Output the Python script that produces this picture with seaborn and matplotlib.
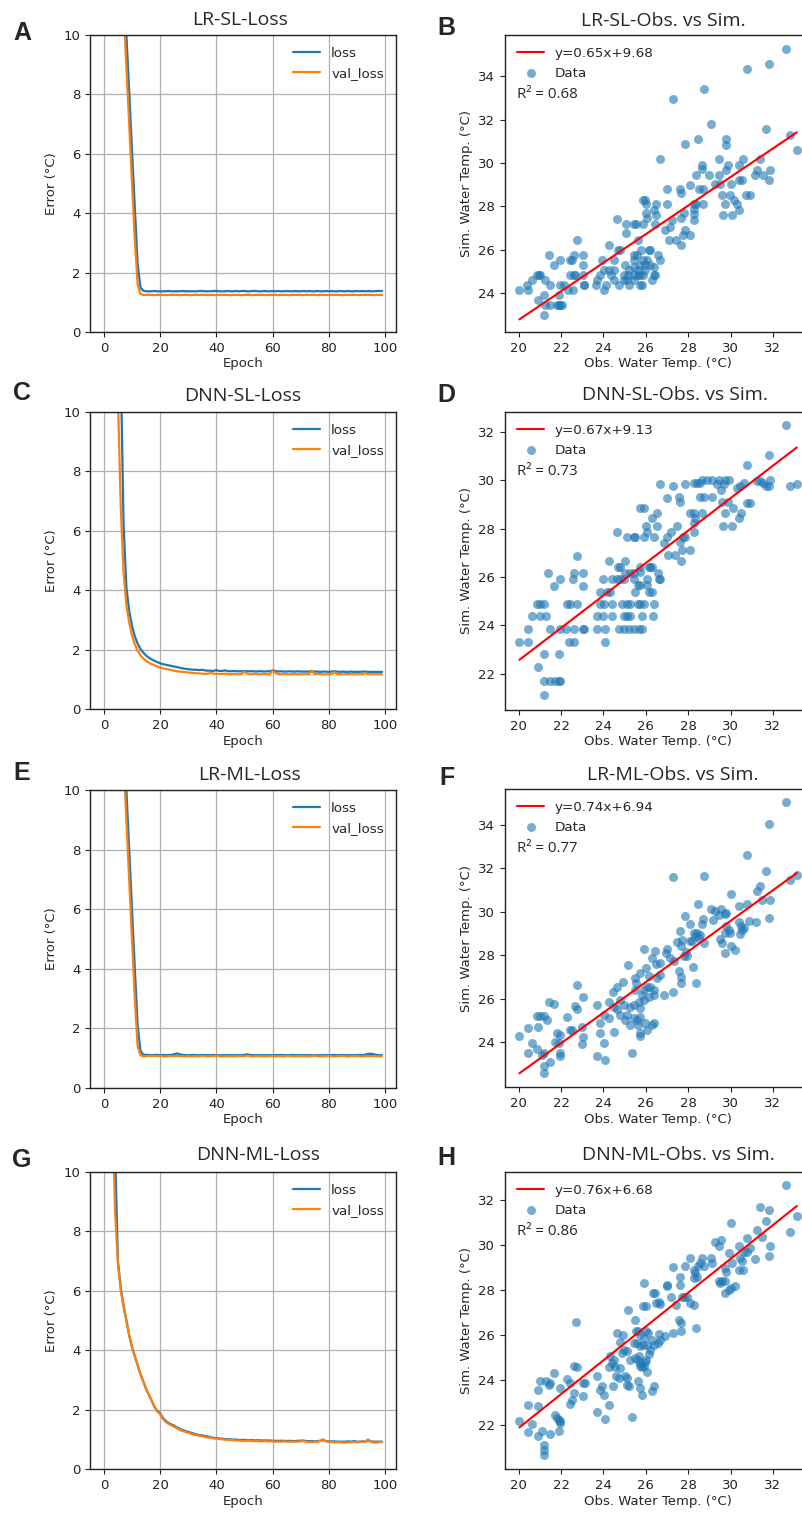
import numpy as np
import pandas as pd
import matplotlib
matplotlib.use("Agg")
import matplotlib.pyplot as plt
import seaborn as sns

# ---- data ----
epochs = list(range(100))

lr_sl_loss = [25.5, 23.6, 21.6, 19.7, 17.7, 15.8, 13.8, 11.9, 10.0, 8.1,
              6.1, 4.2, 2.3, 1.5, 1.39, 1.37, 1.37, 1.37, 1.38, 1.37,
              1.37, 1.37, 1.37, 1.38, 1.37, 1.37, 1.37, 1.37, 1.38, 1.37,
              1.37, 1.37, 1.37, 1.37, 1.38, 1.38, 1.37, 1.37, 1.37, 1.38,
              1.38, 1.37, 1.37, 1.37, 1.38, 1.37, 1.37, 1.38, 1.37, 1.38,
              1.38, 1.37, 1.37, 1.38, 1.38, 1.37, 1.37, 1.38, 1.37, 1.37,
              1.38, 1.37, 1.38, 1.37, 1.37, 1.38, 1.37, 1.37, 1.38, 1.37,
              1.37, 1.38, 1.37, 1.38, 1.37, 1.37, 1.38, 1.37, 1.37, 1.38,
              1.37, 1.38, 1.37, 1.37, 1.38, 1.37, 1.37, 1.38, 1.37, 1.37,
              1.38, 1.37, 1.38, 1.37, 1.38, 1.37, 1.37, 1.38, 1.38, 1.38]
lr_sl_val = [24.5, 22.5, 20.6, 18.6, 16.7, 14.7, 12.8, 10.9, 8.9, 7.0,
             5.0, 3.1, 1.6, 1.28, 1.25, 1.25, 1.25, 1.25, 1.24, 1.25,
             1.25, 1.25, 1.24, 1.25, 1.25, 1.25, 1.25, 1.24, 1.25, 1.25,
             1.25, 1.24, 1.25, 1.25, 1.25, 1.25, 1.25, 1.24, 1.25, 1.25,
             1.24, 1.25, 1.25, 1.25, 1.25, 1.24, 1.25, 1.25, 1.25, 1.24,
             1.25, 1.25, 1.25, 1.24, 1.25, 1.25, 1.25, 1.25, 1.24, 1.25,
             1.25, 1.25, 1.24, 1.25, 1.25, 1.25, 1.24, 1.25, 1.25, 1.25,
             1.25, 1.24, 1.25, 1.25, 1.25, 1.25, 1.24, 1.25, 1.25, 1.25,
             1.24, 1.25, 1.25, 1.25, 1.25, 1.24, 1.25, 1.25, 1.25, 1.25,
             1.25, 1.24, 1.25, 1.25, 1.25, 1.25, 1.24, 1.25, 1.25, 1.25]

dnn_sl_loss = [60.0, 42.0, 30.0, 22.0, 17.0, 13.8, 11.5, 6.2, 4.1, 3.3,
               2.8, 2.45, 2.2, 2.02, 1.9, 1.80, 1.73, 1.67, 1.62, 1.58,
               1.54, 1.51, 1.49, 1.47, 1.45, 1.43, 1.41, 1.39, 1.37, 1.35,
               1.34, 1.33, 1.32, 1.32, 1.31, 1.32, 1.30, 1.29, 1.29, 1.28,
               1.31, 1.28, 1.28, 1.30, 1.28, 1.27, 1.28, 1.27, 1.27, 1.27,
               1.28, 1.27, 1.27, 1.27, 1.26, 1.27, 1.27, 1.26, 1.27, 1.27,
               1.30, 1.28, 1.26, 1.27, 1.26, 1.26, 1.27, 1.26, 1.26, 1.27,
               1.26, 1.26, 1.26, 1.26, 1.28, 1.26, 1.26, 1.25, 1.26, 1.26,
               1.25, 1.26, 1.27, 1.26, 1.25, 1.26, 1.25, 1.25, 1.26, 1.25,
               1.25, 1.25, 1.26, 1.26, 1.25, 1.25, 1.25, 1.25, 1.25, 1.25]
dnn_sl_val = [55.0, 38.0, 27.0, 20.0, 14.5, 10.4, 6.8, 4.6, 3.5, 2.9,
              2.48, 2.18, 1.96, 1.81, 1.70, 1.62, 1.56, 1.51, 1.47, 1.43,
              1.40, 1.37, 1.35, 1.33, 1.31, 1.29, 1.27, 1.26, 1.25, 1.24,
              1.23, 1.22, 1.21, 1.20, 1.20, 1.19, 1.18, 1.19, 1.21, 1.19,
              1.18, 1.18, 1.18, 1.19, 1.18, 1.17, 1.18, 1.17, 1.17, 1.18,
              1.26, 1.19, 1.17, 1.17, 1.18, 1.17, 1.17, 1.18, 1.17, 1.17,
              1.29, 1.22, 1.17, 1.17, 1.18, 1.17, 1.17, 1.17, 1.18, 1.17,
              1.17, 1.17, 1.17, 1.17, 1.29, 1.17, 1.18, 1.17, 1.17, 1.17,
              1.17, 1.17, 1.24, 1.18, 1.17, 1.17, 1.17, 1.17, 1.18, 1.17,
              1.17, 1.17, 1.17, 1.21, 1.17, 1.17, 1.17, 1.17, 1.17, 1.17]

lr_ml_loss = [26.0, 24.0, 22.0, 20.0, 18.0, 16.0, 14.0, 12.0, 10.0, 8.0,
              6.0, 4.0, 2.1, 1.25, 1.12, 1.11, 1.11, 1.10, 1.11, 1.11,
              1.10, 1.11, 1.10, 1.10, 1.11, 1.13, 1.16, 1.13, 1.11, 1.10,
              1.10, 1.10, 1.11, 1.10, 1.10, 1.11, 1.10, 1.10, 1.10, 1.11,
              1.10, 1.10, 1.10, 1.10, 1.10, 1.10, 1.10, 1.10, 1.10, 1.10,
              1.11, 1.13, 1.11, 1.10, 1.10, 1.10, 1.10, 1.10, 1.10, 1.10,
              1.10, 1.10, 1.10, 1.11, 1.10, 1.10, 1.10, 1.11, 1.10, 1.10,
              1.10, 1.10, 1.10, 1.10, 1.10, 1.10, 1.10, 1.10, 1.10, 1.10,
              1.10, 1.10, 1.11, 1.10, 1.10, 1.11, 1.10, 1.10, 1.10, 1.10,
              1.10, 1.11, 1.10, 1.12, 1.14, 1.15, 1.13, 1.11, 1.10, 1.10]
lr_ml_val = [25.0, 23.0, 21.0, 19.0, 17.0, 15.0, 13.0, 11.0, 9.0, 7.0,
             5.0, 3.0, 1.4, 1.10, 1.06, 1.07, 1.08, 1.07, 1.08, 1.07,
             1.08, 1.07, 1.06, 1.07, 1.07, 1.07, 1.08, 1.07, 1.07, 1.06,
             1.07, 1.06, 1.07, 1.07, 1.06, 1.08, 1.07, 1.06, 1.07, 1.07,
             1.09, 1.07, 1.06, 1.07, 1.06, 1.07, 1.06, 1.07, 1.07, 1.07,
             1.07, 1.09, 1.07, 1.06, 1.07, 1.07, 1.07, 1.06, 1.07, 1.07,
             1.07, 1.06, 1.07, 1.07, 1.06, 1.08, 1.07, 1.07, 1.06, 1.07,
             1.07, 1.07, 1.07, 1.06, 1.07, 1.09, 1.07, 1.06, 1.07, 1.07,
             1.07, 1.07, 1.06, 1.07, 1.07, 1.08, 1.07, 1.06, 1.07, 1.07,
             1.07, 1.07, 1.06, 1.07, 1.07, 1.07, 1.07, 1.07, 1.06, 1.07]

dnn_ml_loss = [40.0, 28.0, 20.0, 14.5, 10.6, 7.0, 6.1, 5.5, 5.0, 4.5,
               4.1, 3.8, 3.5, 3.2, 2.95, 2.7, 2.5, 2.3, 2.1, 1.95,
               1.88, 1.72, 1.62, 1.55, 1.50, 1.46, 1.40, 1.35, 1.31, 1.28,
               1.25, 1.22, 1.19, 1.16, 1.14, 1.13, 1.11, 1.09, 1.07, 1.05,
               1.04, 1.03, 1.02, 1.01, 1.00, 1.00, 0.99, 0.99, 0.98, 0.98,
               0.98, 0.97, 0.97, 0.97, 0.96, 0.97, 0.96, 0.96, 0.96, 0.96,
               0.95, 0.95, 0.95, 0.95, 0.95, 0.94, 0.95, 0.94, 0.94, 0.95,
               0.95, 0.96, 0.94, 0.94, 0.94, 0.93, 0.94, 0.95, 0.97, 0.94,
               0.93, 0.93, 0.93, 0.92, 0.92, 0.92, 0.92, 0.93, 0.92, 0.94,
               0.92, 0.92, 0.93, 0.92, 0.96, 0.93, 0.92, 0.92, 0.92, 0.92]
dnn_ml_val = [35.0, 24.0, 17.0, 12.0, 8.6, 6.9, 6.0, 5.45, 5.0, 4.5,
              4.1, 3.8, 3.5, 3.2, 2.95, 2.7, 2.5, 2.3, 2.08, 1.93,
              1.85, 1.68, 1.58, 1.52, 1.47, 1.42, 1.37, 1.32, 1.28, 1.25,
              1.22, 1.19, 1.16, 1.14, 1.12, 1.10, 1.08, 1.06, 1.05, 1.03,
              1.02, 1.01, 1.00, 0.99, 0.98, 0.98, 0.97, 0.96, 0.96, 0.95,
              0.95, 0.95, 0.95, 0.94, 0.94, 0.94, 0.93, 0.94, 0.93, 0.93,
              0.93, 0.92, 0.92, 0.92, 0.93, 0.92, 0.92, 0.92, 0.92, 0.92,
              0.93, 0.94, 0.92, 0.91, 0.91, 0.91, 0.92, 0.94, 1.00, 0.93,
              0.91, 0.91, 0.90, 0.90, 0.90, 0.89, 0.89, 0.90, 0.90, 0.91,
              0.90, 0.91, 0.92, 0.93, 0.99, 0.93, 0.89, 0.89, 0.90, 0.91]

# observed vs simulated water temperature
lr_sl_obs = [32.61, 31.80, 30.77, 28.76, 27.28, 29.08, 31.69, 32.79, 33.13, 28.46,
             29.78, 29.78, 27.86, 26.68, 28.67, 28.67, 29.44, 29.88, 30.59, 30.38,
             31.37, 31.25, 31.17, 31.53, 31.87, 31.80, 28.37, 28.96, 29.47, 29.25,
             29.52, 29.61, 30.03, 30.38, 30.54, 29.80, 29.96, 30.74, 30.90, 29.75,
             30.14, 30.30, 30.38, 29.64, 30.07, 28.07, 28.70, 28.49, 28.70, 28.26,
             28.38, 28.26, 28.26, 28.26, 27.79, 27.68, 27.68, 27.60, 27.00, 27.00,
             27.75, 28.07, 27.86, 27.66, 27.42, 27.08, 27.23, 27.12, 26.89, 26.50,
             26.50, 26.37, 25.85, 25.98, 26.01, 26.01, 26.06, 25.87, 25.52, 25.43,
             25.06, 24.64, 25.06, 25.63, 26.42, 24.28, 24.67, 24.80, 23.95, 24.48,
             25.43, 25.58, 25.79, 26.13, 26.21, 26.57, 26.65, 25.43, 25.03, 25.43,
             25.61, 25.98, 26.06, 26.37, 23.85, 24.04, 24.25, 24.36, 24.48, 24.95,
             25.16, 25.43, 25.61, 25.74, 25.87, 25.98, 26.37, 23.70, 23.66, 24.12,
             24.04, 24.48, 24.72, 24.95, 25.11, 25.19, 25.43, 25.74, 25.82, 26.29,
             26.45, 23.07, 23.10, 23.04, 22.60, 22.41, 20.03, 20.39, 20.44, 20.63,
             20.87, 20.94, 21.02, 21.26, 21.49, 21.42, 21.68, 21.97, 21.97, 22.12,
             20.91, 21.21, 21.21, 21.26, 21.49, 21.81, 21.89, 21.97, 22.04, 21.89,
             22.33, 22.55, 22.52, 22.63, 22.75, 23.04, 23.04, 25.19, 25.74, 25.87,
             26.21, 22.41, 22.67]
lr_sl_sim = [35.24, 34.55, 34.31, 33.39, 32.93, 31.78, 31.55, 31.30, 30.60, 31.09,
             31.09, 30.83, 30.86, 30.17, 29.92, 29.72, 30.17, 29.92, 30.17, 29.92,
             30.17, 29.67, 29.44, 29.44, 29.69, 29.23, 29.44, 29.44, 29.44, 29.02,
             29.02, 28.52, 29.02, 29.21, 29.21, 29.67, 28.52, 28.52, 28.52, 28.10,
             28.29, 28.10, 27.83, 27.60, 27.60, 28.98, 28.79, 28.79, 28.10, 28.10,
             28.10, 27.87, 27.63, 27.37, 27.68, 27.45, 28.60, 28.79, 28.79, 28.10,
             26.68, 26.68, 26.91, 26.22, 26.45, 26.45, 27.37, 27.07, 26.91, 28.10,
             27.60, 27.83, 28.29, 28.29, 28.10, 27.68, 27.45, 27.19, 27.19, 27.19,
             27.19, 27.40, 26.76, 26.45, 27.19, 26.22, 25.99, 25.99, 25.53, 25.53,
             25.76, 25.76, 25.99, 25.99, 25.99, 25.76, 25.53, 25.53, 25.30, 25.23,
             25.07, 25.30, 25.53, 25.23, 24.84, 25.07, 25.07, 24.84, 25.07, 24.84,
             24.84, 24.84, 24.84, 24.84, 24.84, 25.07, 24.84, 24.61, 24.38, 24.38,
             24.15, 24.61, 24.38, 24.61, 24.61, 24.38, 24.61, 24.38, 24.38, 24.61,
             24.84, 24.38, 24.38, 24.84, 24.84, 24.84, 24.15, 24.38, 24.15, 24.61,
             24.84, 24.84, 24.84, 24.61, 24.38, 25.76, 25.30, 25.53, 24.38, 24.38,
             23.69, 23.92, 23.00, 23.46, 23.46, 23.46, 23.46, 23.46, 23.46, 23.92,
             24.15, 24.15, 25.53, 25.76, 26.45, 25.76, 25.30, 25.07, 25.30, 25.53,
             25.30, 25.53, 24.84]

dnn_sl_obs = [32.61, 31.80, 30.77, 33.13, 32.82, 31.87, 31.69, 31.80, 31.37, 31.25,
              31.53, 30.62, 30.43, 30.30, 29.91, 29.75, 29.70, 29.44, 29.36, 29.56,
              29.12, 28.89, 28.65, 28.57, 28.41, 28.26, 27.86, 27.28, 26.68, 27.55,
              27.63, 27.00, 28.54, 28.76, 29.12, 29.59, 29.86, 30.10, 30.77, 30.90,
              30.51, 30.38, 29.75, 29.64, 30.07, 28.65, 28.10, 28.26, 28.34, 28.26,
              28.29, 28.07, 27.63, 27.71, 27.68, 27.75, 27.86, 27.47, 27.19, 27.00,
              26.84, 27.05, 27.39, 26.53, 26.53, 26.29, 26.37, 26.02, 26.06, 25.93,
              25.74, 25.90, 25.43, 25.50, 25.11, 24.64, 25.03, 24.67, 24.80, 24.28,
              25.43, 25.27, 25.03, 25.74, 25.74, 26.13, 26.21, 26.29, 26.57, 26.68,
              26.61, 23.98, 24.42, 24.64, 24.80, 24.95, 25.43, 26.06, 23.85, 24.17,
              24.33, 25.50, 25.61, 25.74, 26.06, 26.13, 26.29, 23.85, 24.42, 24.04,
              24.88, 25.11, 25.27, 25.61, 25.74, 25.90, 26.37, 23.70, 23.98, 24.42,
              24.99, 25.11, 25.24, 25.82, 26.32, 23.70, 24.09, 24.72, 24.99, 25.19,
              25.43, 25.66, 25.82, 24.09, 22.63, 23.04, 23.10, 22.28, 22.75, 22.44,
              22.55, 22.63, 22.75, 23.04, 23.04, 21.97, 21.65, 21.38, 20.03, 20.44,
              20.44, 20.63, 20.87, 20.99, 21.18, 21.02, 21.29, 21.49, 21.97, 22.25,
              20.91, 21.21, 21.89, 21.21, 21.49, 21.73, 21.89, 21.97, 21.21, 22.36,
              22.60]
dnn_sl_sim = [32.27, 31.04, 30.62, 29.83, 29.77, 30.01, 29.76, 29.76, 29.96, 29.96,
              29.87, 29.87, 29.76, 29.66, 30.01, 30.01, 29.84, 30.01, 29.84, 29.59,
              30.01, 30.01, 30.01, 29.90, 29.90, 29.90, 29.83, 29.76, 29.83, 29.32,
              29.11, 29.28, 29.29, 29.29, 29.29, 29.11, 29.11, 28.84, 29.07, 29.07,
              28.63, 28.42, 28.63, 28.12, 28.12, 28.63, 28.63, 28.63, 28.42, 28.22,
              27.87, 27.12, 27.46, 27.12, 26.64, 27.67, 27.67, 28.12, 27.87, 27.67,
              27.39, 26.91, 26.91, 28.63, 28.12, 28.42, 27.67, 28.12, 27.87, 27.67,
              28.86, 28.86, 27.67, 27.67, 27.67, 27.87, 26.64, 26.43, 26.43, 26.64,
              26.15, 26.15, 26.15, 26.43, 26.22, 26.43, 26.43, 26.43, 26.15, 25.92,
              25.92, 25.92, 25.92, 25.92, 25.92, 25.92, 25.92, 25.92, 25.40, 25.40,
              25.40, 25.40, 25.67, 25.67, 25.67, 25.40, 25.40, 24.89, 24.89, 24.89,
              24.89, 24.89, 24.89, 24.89, 24.89, 24.89, 24.89, 24.37, 24.37, 24.37,
              24.37, 24.37, 24.37, 24.37, 24.37, 23.84, 23.84, 23.84, 23.84, 23.84,
              23.84, 23.84, 23.84, 23.31, 23.84, 23.84, 23.84, 24.89, 24.89, 24.89,
              25.92, 26.15, 26.88, 26.15, 25.63, 25.92, 25.63, 26.15, 23.31, 23.31,
              23.84, 24.37, 24.89, 24.89, 24.89, 24.37, 24.37, 23.84, 23.84, 23.84,
              22.28, 22.83, 22.83, 21.72, 21.72, 21.72, 21.72, 21.72, 21.13, 23.31,
              23.31]

lr_ml_obs = [32.61, 31.80, 30.77, 27.28, 28.76, 31.69, 33.13, 32.82, 31.37, 31.25,
             31.48, 31.87, 30.03, 30.77, 30.38, 31.80, 31.21, 30.85, 28.46, 29.08,
             29.25, 29.55, 29.75, 29.80, 29.44, 28.70, 28.65, 29.15, 27.86, 28.10,
             30.38, 30.51, 30.62, 30.54, 30.43, 29.80, 29.99, 29.94, 29.48, 29.59,
             29.75, 30.03, 30.19, 29.75, 28.26, 28.34, 28.41, 28.57, 28.49, 28.76,
             28.18, 28.10, 27.60, 27.71, 27.68, 27.47, 27.79, 27.94, 27.91, 27.00,
             26.97, 27.12, 27.31, 26.68, 28.23, 28.38, 27.55, 27.68, 27.68, 27.28,
             26.84, 26.45, 26.50, 26.29, 25.90, 26.02, 25.74, 26.13, 26.53, 26.68,
             25.16, 24.92, 24.64, 24.44, 25.50, 25.55, 25.90, 26.06, 26.21, 26.37,
             24.80, 24.99, 25.27, 25.43, 25.66, 25.71, 25.90, 26.13, 24.80, 25.11,
             25.43, 25.58, 25.74, 25.03, 25.27, 25.61, 25.98, 26.06, 25.71, 25.74,
             26.29, 26.37, 24.64, 24.48, 25.50, 25.82, 26.37, 24.28, 24.01, 24.25,
             23.85, 23.85, 24.04, 23.70, 24.09, 24.48, 23.70, 23.04, 22.75, 22.67,
             22.75, 22.28, 22.44, 22.52, 21.97, 21.81, 21.89, 21.97, 21.97, 21.70,
             22.99, 23.04, 22.99, 21.45, 21.68, 21.34, 21.18, 20.87, 20.99, 20.90,
             20.44, 20.03, 20.63, 20.44, 20.87, 21.10, 21.21, 21.21, 21.21, 21.49,
             25.35]
lr_ml_sim = [35.03, 34.05, 32.59, 31.59, 31.62, 31.88, 31.67, 31.44, 31.19, 30.96,
             30.55, 30.55, 30.81, 30.35, 30.24, 29.71, 29.51, 29.58, 30.35, 30.13,
             30.01, 30.13, 29.90, 29.94, 29.83, 29.67, 29.44, 29.63, 29.81, 29.44,
             29.52, 29.32, 29.25, 29.17, 28.98, 29.35, 29.02, 29.17, 28.75, 28.56,
             28.10, 28.40, 28.25, 29.02, 29.02, 28.86, 29.02, 28.94, 28.79, 28.57,
             28.63, 28.63, 29.09, 28.71, 28.40, 28.59, 27.94, 27.94, 28.13, 28.29,
             28.10, 27.87, 27.71, 27.64, 27.45, 26.71, 27.25, 27.02, 26.71, 26.30,
             26.15, 28.17, 27.60, 27.87, 28.29, 27.40, 27.17, 27.05, 26.94, 27.10,
             27.56, 26.79, 26.53, 26.29, 26.94, 26.71, 26.41, 26.56, 26.53, 26.41,
             25.95, 25.72, 25.64, 25.72, 25.87, 25.56, 25.95, 26.10, 25.26, 25.26,
             25.10, 25.03, 25.18, 25.03, 24.80, 24.80, 24.87, 24.57, 24.41, 24.29,
             24.80, 24.87, 25.52, 25.64, 26.41, 26.18, 26.18, 25.87, 25.26, 25.10,
             24.87, 24.41, 23.98, 23.37, 23.19, 24.49, 25.69, 26.06, 26.64, 25.67,
             25.52, 25.18, 24.54, 24.54, 24.34, 24.41, 23.98, 23.49, 23.37, 24.03,
             24.72, 24.26, 23.92, 25.87, 25.75, 25.03, 25.21, 25.21, 25.21, 24.72,
             24.64, 24.29, 23.98, 23.49, 23.68, 23.42, 23.49, 22.91, 22.57, 23.11,
             23.49]

dnn_ml_obs = [32.61, 31.37, 31.80, 33.13, 31.69, 32.82, 30.03, 31.25, 31.48, 31.87,
              31.80, 31.17, 30.77, 30.38, 30.90, 30.77, 30.62, 30.46, 30.54, 30.38,
              30.59, 29.55, 29.28, 29.44, 29.91, 30.07, 29.75, 29.80, 29.44, 29.48,
              29.59, 29.75, 29.75, 29.91, 30.03, 30.19, 29.08, 29.12, 28.67, 28.57,
              28.46, 28.76, 28.10, 28.26, 28.34, 28.26, 28.41, 27.86, 27.28, 27.63,
              27.63, 27.79, 27.71, 27.94, 28.10, 28.26, 27.00, 27.00, 27.19, 27.44,
              26.68, 26.50, 26.34, 26.45, 25.90, 25.85, 26.01, 26.61, 27.55, 27.68,
              27.68, 27.28, 28.38, 26.92, 25.16, 25.50, 24.64, 24.92, 24.80, 25.55,
              25.61, 26.02, 26.09, 26.61, 26.68, 26.57, 26.29, 26.37, 25.74, 25.90,
              25.43, 25.58, 26.06, 25.74, 26.21, 26.13, 25.85, 24.33, 24.48, 24.40,
              24.25, 24.56, 24.80, 25.24, 24.95, 24.88, 25.11, 25.50, 25.61, 25.74,
              25.71, 25.82, 25.90, 26.06, 25.98, 25.66, 26.02, 23.70, 23.93, 23.85,
              24.01, 24.28, 23.70, 24.09, 24.44, 24.61, 24.72, 25.00, 25.11, 25.19,
              25.11, 25.35, 25.61, 25.71, 25.82, 26.29, 26.40, 22.63, 22.75, 22.72,
              23.04, 23.11, 23.04, 22.60, 22.52, 22.44, 22.28, 22.41, 21.65, 21.97,
              21.29, 21.42, 21.49, 20.99, 20.90, 20.90, 20.44, 20.03, 20.63, 20.44,
              20.91, 21.10, 21.49, 21.21, 21.21, 21.21, 21.73, 21.81, 21.89, 21.93,
              21.97, 21.89]
dnn_ml_sim = [32.67, 31.70, 31.53, 31.30, 31.04, 30.56, 30.96, 30.67, 30.34, 29.97,
              29.51, 29.36, 30.30, 29.97, 29.85, 29.66, 29.66, 29.41, 29.30, 28.86,
              28.86, 30.22, 30.12, 29.93, 29.63, 29.19, 28.96, 28.81, 28.37, 28.30,
              28.37, 28.37, 27.88, 28.00, 28.07, 28.15, 29.41, 29.19, 29.41, 29.19,
              29.04, 29.04, 29.41, 28.89, 28.74, 28.52, 28.59, 29.04, 29.01, 28.59,
              28.22, 27.70, 27.70, 27.70, 27.41, 27.33, 28.22, 28.15, 27.70, 27.33,
              27.38, 27.41, 27.88, 27.85, 28.30, 27.26, 27.26, 27.44, 26.67, 26.52,
              26.15, 26.07, 26.30, 25.96, 27.11, 26.64, 26.07, 26.00, 25.70, 26.15,
              26.15, 26.15, 26.07, 26.04, 25.78, 25.63, 25.78, 25.56, 26.00, 25.85,
              25.63, 25.63, 25.56, 25.48, 25.33, 25.16, 25.56, 25.04, 24.89, 24.74,
              24.56, 24.55, 24.52, 24.89, 25.33, 25.21, 25.26, 24.96, 24.89, 24.74,
              24.62, 24.56, 24.59, 24.33, 24.81, 25.04, 24.89, 24.15, 23.70, 23.56,
              23.33, 22.89, 22.56, 22.27, 23.70, 24.15, 24.07, 24.15, 24.07, 23.70,
              23.78, 22.34, 23.93, 23.63, 23.33, 23.51, 23.73, 24.59, 24.56, 26.55,
              23.85, 23.85, 23.26, 23.41, 23.11, 22.93, 24.03, 23.85, 24.30, 23.63,
              23.93, 23.78, 23.85, 23.93, 23.56, 22.81, 22.89, 22.15, 22.03, 21.66,
              21.48, 21.70, 21.59, 21.11, 20.89, 20.67, 22.44, 22.30, 22.22, 22.07,
              22.15, 21.70]

# fit results shown in the legends: slope, intercept, R^2
lr_sl_fit = (0.65, 9.68, 0.68)
dnn_sl_fit = (0.67, 9.13, 0.73)
lr_ml_fit = (0.74, 6.94, 0.77)
dnn_ml_fit = (0.76, 6.68, 0.86)
# red line as drawn: sim value at the lowest and highest obs
lr_sl_line = [22.80, 31.41]
dnn_sl_line = [22.58, 31.35]
lr_ml_line = [22.57, 31.78]
dnn_ml_line = [21.88, 31.73]

titles_loss = ["LR-SL-Loss", "DNN-SL-Loss", "LR-ML-Loss", "DNN-ML-Loss"]
titles_scatter = ["LR-SL-Obs. vs Sim.", "DNN-SL-Obs. vs Sim.",
                  "LR-ML-Obs. vs Sim.", "DNN-ML-Obs. vs Sim."]
letters_left = ["A", "C", "E", "G"]
letters_right = ["B", "D", "F", "H"]

# ---- style ----
sns.set_style("ticks")
plt.rcParams['font.family'] = ['DejaVu Sans']
plt.rcParams['axes.edgecolor'] = '#222222'
plt.rcParams['xtick.color'] = '#222222'
plt.rcParams['ytick.color'] = '#222222'
plt.rcParams['axes.linewidth'] = 1.0

BLUE = '#1f77b4'
ORANGE = '#ff7f0e'
W, H = 802, 1513
fig = plt.figure(figsize=(W / 100, H / 100), dpi=100)


def rect(left, top, right, bottom):
    return [left / W, 1 - bottom / H, (right - left) / W, (bottom - top) / H]


def fig_text(x, y, s, **kw):
    fig.text(x / W, 1 - y / H, s, **kw)


def loss_panel(r, loss, val):
    ax = fig.add_axes(r)
    sns.lineplot(x=epochs, y=loss, ax=ax, color=BLUE, lw=1.6, label='loss')
    sns.lineplot(x=epochs, y=val, ax=ax, color=ORANGE, lw=1.6, label='val_loss')
    ax.set_xlim(-4.95, 103.95)
    ax.set_ylim(0, 10)
    ax.set_xticks(range(0, 101, 20))
    ax.set_yticks(range(0, 11, 2))
    ax.grid(True, color='#b0b0b0', lw=0.9)
    ax.set_xlabel('Epoch', fontsize=9.5, labelpad=2)
    ax.set_ylabel('Error (°C)', fontsize=9.5)
    ax.tick_params(labelsize=9.5)
    ax.legend(loc='upper right', frameon=False, fontsize=9.7)
    return ax


def scatter_panel(r, obs, sim, fit, line, xlim, ylim, yticks):
    slope, intercept, r2 = fit
    ax = fig.add_axes(r)
    sns.scatterplot(x=obs, y=sim, ax=ax, color=BLUE, alpha=0.6, s=42,
                    linewidth=0, label='Data', zorder=2)
    xs = [min(obs), max(obs)]
    sns.lineplot(x=xs, y=line, ax=ax, color='red', lw=1.5,
                 label=f'y={slope:.2f}x+{intercept:.2f}', zorder=3)
    h, l = ax.get_legend_handles_labels()
    ax.legend(h[::-1], l[::-1], loc='upper left', frameon=False, fontsize=9.7)
    ax.text(0.04, 0.80, f'R² = {r2:.2f}', transform=ax.transAxes,
            family='Open Sans', fontsize=10.8, va='center')
    ax.set_xlim(*xlim)
    ax.set_ylim(*ylim)
    ax.set_xticks(range(20, 33, 2))
    ax.set_yticks(yticks)
    ax.set_xlabel('Obs. Water Temp. (°C)', fontsize=9.5, labelpad=2)
    ax.set_ylabel('Sim. Water Temp. (°C)', fontsize=9.5)
    ax.tick_params(labelsize=9.5)
    return ax


loss_data = [(lr_sl_loss, lr_sl_val), (dnn_sl_loss, dnn_sl_val),
             (lr_ml_loss, lr_ml_val), (dnn_ml_loss, dnn_ml_val)]
scatter_data = [(lr_sl_obs, lr_sl_sim, lr_sl_fit, lr_sl_line),
                (dnn_sl_obs, dnn_sl_sim, dnn_sl_fit, dnn_sl_line),
                (lr_ml_obs, lr_ml_sim, lr_ml_fit, lr_ml_line),
                (dnn_ml_obs, dnn_ml_sim, dnn_ml_fit, dnn_ml_line)]

# pixel layout of the panels
left_rows = [(35, 332), (412, 709), (790, 1088), (1172, 1469)]
right_rows = [(35, 332), (412, 710), (789, 1087), (1172, 1469)]
scatter_ylims = [(22.22, 35.89), (20.51, 32.81), (21.94, 35.64), (20.03, 33.24)]
scatter_yticks = [range(24, 35, 2), range(22, 33, 2), range(24, 35, 2), range(22, 33, 2)]
title_left_pos = [(240, 20), (243, 396), (250, 775), (258, 1155)]
title_right_pos = [(663, 21), (675, 395), (673, 775), (678, 1155)]
letter_left_pos = [(22, 33), (22, 393), (22, 773), (22, 1160)]
letter_right_pos = [(446, 28), (446, 395), (447, 778), (446, 1158)]

for i in range(4):
    t, b = left_rows[i]
    loss_panel(rect(90, t, 396, b), *loss_data[i])
    t, b = right_rows[i]
    obs, sim, fit, line = scatter_data[i]
    scatter_panel(rect(505, t, 810, b), obs, sim, fit, line,
                  (19.35, 33.75), scatter_ylims[i], scatter_yticks[i])

    fig_text(*title_left_pos[i], titles_loss[i], ha='center', va='center',
             family='Open Sans', fontsize=14)
    fig_text(*title_right_pos[i], titles_scatter[i], ha='center', va='center',
             family='Open Sans', fontsize=14)
    fig_text(*letter_left_pos[i], letters_left[i], ha='center', va='center',
             family='Liberation Sans', fontweight='bold', fontsize=18)
    fig_text(*letter_right_pos[i], letters_right[i], ha='center', va='center',
             family='Liberation Sans', fontweight='bold', fontsize=18)

fig.savefig('out.png', dpi=100)
